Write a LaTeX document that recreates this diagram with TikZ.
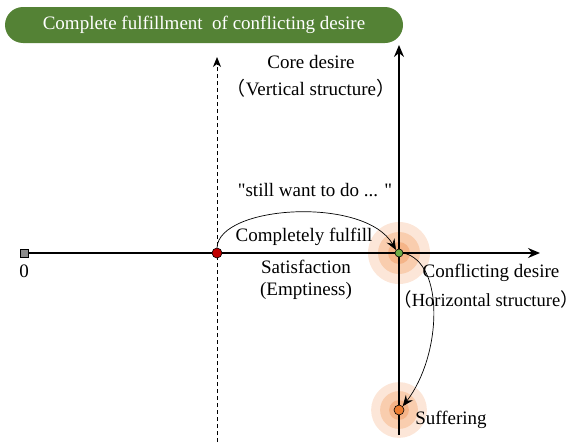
\documentclass[tikz,border=0pt]{standalone}
\usepackage{fontspec}
\setmainfont{Liberation Serif}
\newfontfamily\quotefont{Liberation Serif}
\newfontfamily\cjk{Noto Sans CJK SC}
\usetikzlibrary{arrows.meta}
\definecolor{banner}{HTML}{548235}
\definecolor{glowA}{HTML}{FCE6D8}
\definecolor{glowB}{HTML}{F9CDAE}
\definecolor{glowC}{HTML}{F5B488}
\definecolor{dotred}{HTML}{C00000}
\definecolor{dotgreen}{HTML}{70AD47}
\definecolor{dotorange}{HTML}{ED7D31}
\newcommand{\lpar}{{\cjk （}}
\newcommand{\rpar}{{\cjk ）}}
% tight full-width brackets
\newcommand{\lparT}{\makebox[12pt][r]{\cjk （}}
\newcommand{\rparT}{\makebox[12pt][l]{\cjk ）}}
\begin{document}
\begin{tikzpicture}[x=1pt,y=-1pt,
  every node/.style={font=\fontsize{19}{22}\selectfont},
  axis/.style={line width=1.6pt,-{Stealth[length=12pt,width=10pt,inset=4pt]}},
  dashaxis/.style={line width=1pt,dash pattern=on 4pt off 3pt,-{Stealth[length=10pt,width=8pt,inset=3pt]}},
  flow/.style={line width=0.7pt,-{Stealth[length=11pt,width=9pt,inset=4pt]}},
  dot/.style={circle,draw=black,line width=0.6pt,inner sep=0pt},
  label/.style={inner sep=1pt,align=center}]
\useasboundingbox (0,0) rectangle (580,442);

% title banner
\node[fill=banner,rounded corners=18pt,minimum width=398pt,minimum height=36pt,
      text=white,inner sep=0pt] (title) at (204,25)
      {Complete fulfillment\ \ of conflicting desire};

% glows
\foreach \r/\c in {31/glowA,21/glowB,11/glowC}{
  \fill[\c] (399,253) circle (\r);
  \fill[\c] (399,410) circle (\r*0.9);
}

% axes
\coordinate (hend) at (540,253);
\coordinate (vtop) at (399,45);
\coordinate (vbot) at (399,435);
\coordinate (dtop) at (217,57);
\coordinate (dbot) at (217,442);
\node[draw=black,fill=gray!90,minimum size=8pt,inner sep=0pt,line width=0.6pt] (zero) at (24,253) {};
\draw[axis] (zero.east) -- (hend);
\draw[axis] (vbot) -- (vtop);
\draw[dashaxis] (dbot) -- (dtop);

% points
\node[dot,fill=dotred,minimum size=10pt] (r) at (217,253) {};
\node[dot,fill=dotgreen,minimum size=8pt] (g) at (399,253) {};
\node[dot,fill=dotorange,minimum size=10pt] (o) at (399,410) {};

% transitions
\draw[flow] (r.north) .. controls (219,205) and (365,196) .. (g.north west);
\draw[flow] (g.east) .. controls (445,262) and (442,355) .. (o.north east);

% labels
\node[label] (zl) at (24,271) {0};
\node[label] (core) at (311,62) {Core desire};
\node[label] (vert) at (311,88) {\lpar Vertical structure\rpar};
\node[label] (want) at (315,190) {{\quotefont "still want to do ... "}};
\node[label] (full) at (304,237) {Completely fulfill};
\node[label] (sat) at (306,267) {Satisfaction};
\node[label] (emp) at (306,291) {(Emptiness)};
\node[label] (conf) at (491,273) {Conflicting desire};
\node[label,font=\fontsize{18.5}{22}\selectfont] (hor) at (486,299) {\lparT Horizontal structure\rparT};
\node[label] (suf) at (451,420) {Suffering};
\end{tikzpicture}
\end{document}
